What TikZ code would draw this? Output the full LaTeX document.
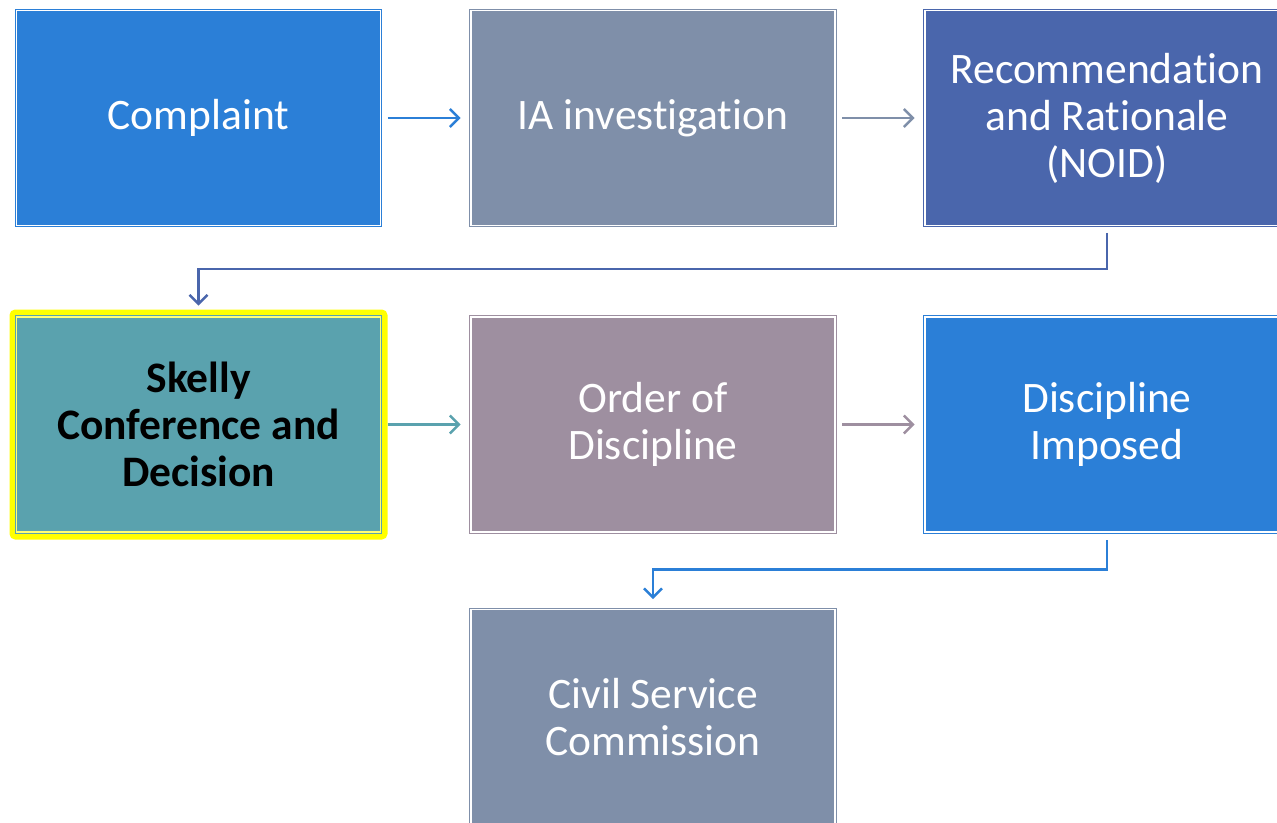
\documentclass[tikz,border=0pt]{standalone}
\usepackage{fontspec}
\setmainfont{Carlito}[Ligatures=NoCommon]
\usetikzlibrary{arrows.meta}
\definecolor{cblue}{RGB}{43,127,215}
\definecolor{cslate}{RGB}{127,143,169}
\definecolor{cindigo}{RGB}{74,102,172}
\definecolor{cteal}{RGB}{90,162,174}
\definecolor{cmauve}{RGB}{158,143,160}
\definecolor{chl}{RGB}{255,255,0}
\tikzset{
  stage/.style={draw=#1, fill=#1, line width=0.9pt, double=white, double distance=1.4pt,
    minimum width=364pt, minimum height=215pt, inner sep=0pt, align=center,
    text=white, font=\fontsize{43.5}{47}\selectfont},
  flow/.style={draw=#1, line width=2.4pt, -{Straight Barb[length=9pt,width=18pt,line width=2.4pt]}},
}
\begin{document}
\begin{tikzpicture}[x=1pt,y=-1pt]
\clip (0,0) rectangle (1277,822);
\fill[white] (0,0) rectangle (1277,822);
% row 1
\node[stage=cblue]   (b1) at (198.5,118) {Complaint};
\node[stage=cslate]  (b2) at (653,118) {IA investigation};
\node[stage=cindigo] (b3) at (1107,118) {Recommendation\\and Rationale\\(NOID)};
% row 2, first box highlighted
\draw[chl, line width=6pt, rounded corners=3pt] (12.5,312.5) rectangle (384.5,536.5);
\node[stage=cteal, double=chl!55!white, text=black, font=\fontsize{43.5}{47}\selectfont\bfseries]
      (b4) at (198.5,424.5) {Skelly\\Conference and\\Decision};
\node[stage=cmauve]  (b5) at (653,424.5) {Order of\\Discipline};
\node[stage=cblue]   (b6) at (1107,424.5) {Discipline\\Imposed};
% row 3
\node[stage=cslate]  (b7) at (653,717) {Civil Service\\Commission};
% connectors
\draw[flow=cblue,  shorten <=7pt, shorten >=10pt] (b1.east) -- (b2.west);
\draw[flow=cslate, shorten <=7pt, shorten >=10pt] (b2.east) -- (b3.west);
\draw[flow=cindigo, shorten <=7pt, shorten >=11pt] (b3.south) -- ++(0,43) -| (b4.north);
\draw[flow=cteal,  shorten <=7pt, shorten >=10pt] (b4.east) -- (b5.west);
\draw[flow=cmauve, shorten <=7pt, shorten >=10pt] (b5.east) -- (b6.west);
\draw[flow=cblue,  shorten <=8pt, shorten >=10pt] (b6.south) -- ++(0,37) -| (b7.north);
\end{tikzpicture}
\end{document}
